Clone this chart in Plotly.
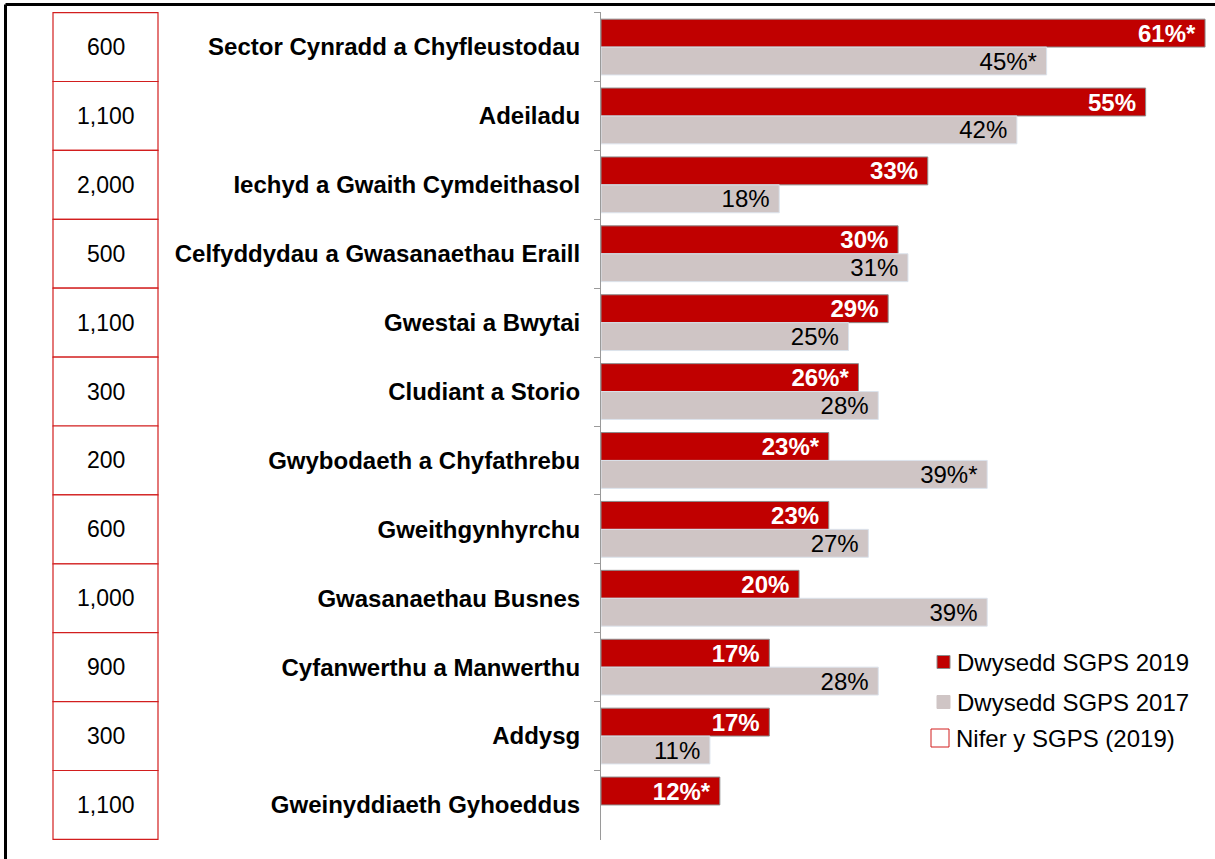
import plotly.graph_objects as go

# Sectors, top to bottom
categories = [
    "Sector Cynradd a Chyfleustodau",
    "Adeiladu",
    "Iechyd a Gwaith Cymdeithasol",
    "Celfyddydau a Gwasanaethau Eraill",
    "Gwestai a Bwytai",
    "Cludiant a Storio",
    "Gwybodaeth a Chyfathrebu",
    "Gweithgynhyrchu",
    "Gwasanaethau Busnes",
    "Cyfanwerthu a Manwerthu",
    "Addysg",
    "Gweinyddiaeth Gyhoeddus",
]

# Number of establishments with skills gaps (2019)
counts_2019 = ["600", "1,100", "2,000", "500", "1,100", "300",
               "200", "600", "1,000", "900", "300", "1,100"]

# Skills-gap density (%) and significance flags
density_2019 = [61, 55, 33, 30, 29, 26, 23, 23, 20, 17, 17, 12]
flag_2019 = [True, False, False, False, False, True,
             True, False, False, False, False, True]
density_2017 = [45, 42, 18, 31, 25, 28, 39, 27, 39, 28, 11, None]
flag_2017 = [True, False, False, False, False, False,
             True, False, False, False, False, False]

series_names = ["Dwysedd SGPS 2019", "Dwysedd SGPS 2017", "Nifer y SGPS (2019)"]

RED = "#C00000"
GREY = "#CFC5C5"
FONT = "Liberation Sans, Arial, sans-serif"


def label(values, flags):
    # trailing no-break space keeps the label off the bar end
    return ["" if v is None else f"{v}%" + ("*" if f else "") + "\u00a0"
            for v, f in zip(values, flags)]


W, H = 1215, 859
ML, MR, MT, MB = 601, 5, 12, 19
PW, PH = W - ML - MR, H - MT - MB


def px(x):
    return (x - ML) / PW


def py(y):
    return (H - MB - y) / PH


fig = go.Figure()
fig.add_trace(go.Bar(
    y=categories, x=density_2019, orientation="h", name=series_names[0],
    marker=dict(color=RED, line=dict(color="#8C8C8C", width=1)),
    text=label(density_2019, flag_2019), textposition="inside",
    insidetextanchor="end",
    textfont=dict(family=FONT, size=24, color="white", weight="bold"),
    showlegend=False, hoverinfo="skip",
))
fig.add_trace(go.Bar(
    y=categories, x=density_2017, orientation="h", name=series_names[1],
    marker=dict(color=GREY, line=dict(color="#DCE3EC", width=1)),
    text=label(density_2017, flag_2017), textposition="inside",
    insidetextanchor="end",
    textfont=dict(family=FONT, size=24, color="black"),
    showlegend=False, hoverinfo="skip",
))

shapes = []
annotations = []

# Count boxes on the left
for i, c in enumerate(counts_2019):
    shapes.append(dict(type="rect", xref="paper", yref="y",
                       x0=px(53), x1=px(158), y0=i - 0.5, y1=i + 0.5,
                       line=dict(color="#D21E1E", width=1.2),
                       fillcolor="white"))
    annotations.append(dict(xref="paper", yref="y", x=px(105.5), y=i,
                            text=c, showarrow=False, xanchor="center",
                            yanchor="middle",
                            font=dict(family=FONT, size=23, color="black")))

# Legend, drawn by hand
legend_rows = [
    (series_names[0], 662, dict(x0=937, x1=950, half=6.5), RED, "#8C8C8C"),
    (series_names[1], 702, dict(x0=937, x1=950, half=6.5), GREY, GREY),
    (series_names[2], 738, dict(x0=931, x1=949, half=9), "white", "#D21E1E"),
]
for name, yc, sq, fill, edge in legend_rows:
    shapes.append(dict(type="rect", xref="paper", yref="paper",
                       x0=px(sq["x0"]), x1=px(sq["x1"]),
                       y0=py(yc + sq["half"]), y1=py(yc - sq["half"]),
                       fillcolor=fill, line=dict(color=edge, width=1)))
    annotations.append(dict(xref="paper", yref="paper",
                            x=px(sq["x1"] + 5), y=py(yc), text=name,
                            showarrow=False, xanchor="left", yanchor="middle",
                            font=dict(family=FONT, size=24, color="black")))

# Outer frame (top and left edges)
shapes.append(dict(type="line", xref="paper", yref="paper",
                   x0=px(5.5), x1=px(1215), y0=py(4.5), y1=py(4.5),
                   line=dict(color="black", width=3)))
shapes.append(dict(type="line", xref="paper", yref="paper",
                   x0=px(5.5), x1=px(5.5), y0=py(4.5), y1=py(859),
                   line=dict(color="black", width=3)))

fig.update_layout(
    width=W, height=H,
    margin=dict(l=ML, r=MR, t=MT, b=MB, pad=0),
    paper_bgcolor="white", plot_bgcolor="white",
    barmode="group", bargap=0.19, bargroupgap=0,
    uniformtext=dict(minsize=24, mode="show"),
    shapes=shapes, annotations=annotations,
    font=dict(family=FONT),
    xaxis=dict(range=[0, 61.5], visible=False, fixedrange=True),
    yaxis=dict(
        type="category", autorange="reversed",
        tickson="boundaries", ticks="outside", ticklen=6,
        tickcolor="#9A9A9A", showline=True, linecolor="#9A9A9A",
        linewidth=1, showgrid=False, ticklabelstandoff=15,
        tickfont=dict(family=FONT, size=24, color="black", weight="bold"),
        fixedrange=True,
    ),
)

fig.write_html("out.html", config={"displayModeBar": False})
